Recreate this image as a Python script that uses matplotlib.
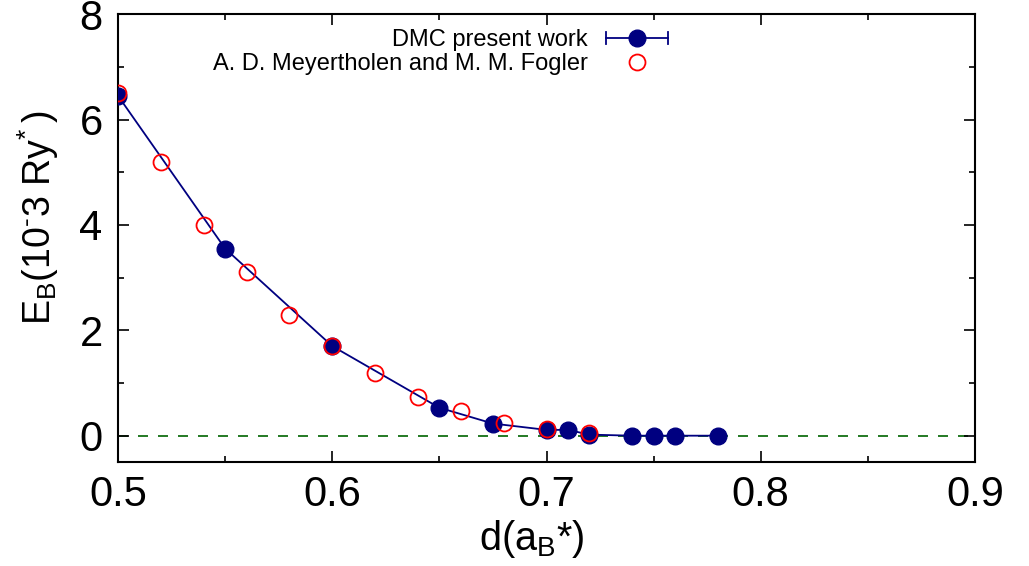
import matplotlib
matplotlib.use("Agg")
import matplotlib.pyplot as plt
from matplotlib.lines import Line2D
from matplotlib.legend_handler import HandlerBase
from matplotlib.ticker import MultipleLocator

plt.rcParams['font.family'] = ['Liberation Sans', 'DejaVu Sans']
plt.rcParams['mathtext.fontset'] = 'custom'
plt.rcParams['mathtext.rm'] = 'Liberation Sans'
plt.rcParams['mathtext.it'] = 'Liberation Sans'
plt.rcParams['mathtext.bf'] = 'Liberation Sans'

# DMC binding energies (10^-3 Ry*)
dmc_d = [0.50, 0.55, 0.60, 0.65, 0.675, 0.70, 0.71, 0.72, 0.74, 0.75, 0.76, 0.78]
dmc_e = [6.45, 3.55, 1.70, 0.53, 0.23, 0.11, 0.11, 0.02, 0.0, 0.0, 0.0, 0.0]
dmc_err = [0.02] * len(dmc_d)

# Meyertholen & Fogler
mf_d = [0.50, 0.52, 0.54, 0.56, 0.58, 0.60, 0.62, 0.64, 0.66, 0.68, 0.70, 0.72]
mf_e = [6.50, 5.19, 4.00, 3.10, 2.29, 1.70, 1.19, 0.73, 0.46, 0.25, 0.12, 0.05]

x_ticks = [0.5, 0.6, 0.7, 0.8, 0.9]
x_tick_labels = ['0.5', '0.6', '0.7', '0.8', '0.9']
y_ticks = [0, 2, 4, 6, 8]
y_tick_labels = ['0', '2', '4', '6', '8']

NAVY = '#000080'
RED = '#ff0000'
GREEN = '#006400'

fig = plt.figure(figsize=(10.29, 5.66), dpi=100)
ax = fig.add_axes([0.1147, 0.1837, 0.9475 - 0.1147, 0.975 - 0.1837])

ax.axhline(0, color=GREEN, lw=1.2, ls=(0, (6, 6)), zorder=1)

ax.errorbar(dmc_d, dmc_e, yerr=dmc_err, color=NAVY, lw=1.3, marker='o', ms=12,
            mfc=NAVY, mec=NAVY, capsize=3, elinewidth=1.2, zorder=3)
ax.plot(mf_d, mf_e, ls='none', marker='o', ms=11.5, mfc='none', mec=RED,
        mew=1.3, zorder=4)

ax.set_xlim(0.5, 0.9)
ax.set_ylim(-0.5, 8)
ax.xaxis.set_minor_locator(MultipleLocator(0.05))
ax.yaxis.set_minor_locator(MultipleLocator(1))
ax.set_xticks(x_ticks)
ax.set_xticklabels(x_tick_labels)
ax.set_yticks(y_ticks)
ax.set_yticklabels(y_tick_labels)

ax.tick_params(which='both', direction='in', top=True, right=True, width=1.2,
               labelsize=30)
ax.tick_params(which='major', length=8)
ax.tick_params(which='minor', length=4)
ax.tick_params(axis='x', pad=9)
ax.tick_params(axis='y', pad=11)
for s in ax.spines.values():
    s.set_linewidth(1.5)

ax.set_xlabel(r'd(a$_\mathregular{B}$*)', fontsize=28.5)
ax.set_ylabel(r'$\mathregular{E_B(10^{\text{-}}3\ Ry^{*}\,)}$', fontsize=27)
ax.xaxis.set_label_coords(0.483, -0.125)
ax.yaxis.set_label_coords(-0.066, 0.545)


class HorizontalErrorHandler(HandlerBase):
    def create_artists(self, legend, orig_handle, xdescent, ydescent,
                       width, height, fontsize, trans):
        y = height / 2 - ydescent
        x0, x1 = -xdescent, -xdescent + width
        cap = 4.5
        artists = [
            Line2D([x0, x1], [y, y], color=NAVY, lw=1.3),
            Line2D([x0, x0], [y - cap, y + cap], color=NAVY, lw=1.3),
            Line2D([x1, x1], [y - cap, y + cap], color=NAVY, lw=1.3),
            Line2D([(x0 + x1) / 2], [y], marker='o', ms=12, color=NAVY, ls='none'),
        ]
        for a in artists:
            a.set_transform(trans)
        return artists


dmc_handle = Line2D([], [], color=NAVY)
mf_handle = Line2D([], [], ls='none', marker='o', ms=11.5, mfc='none', mec=RED, mew=1.3)
leg = ax.legend([dmc_handle, mf_handle],
                ['DMC present work', 'A. D. Meyertholen and M. M. Fogler'],
                handler_map={dmc_handle: HorizontalErrorHandler()},
                loc='upper right', bbox_to_anchor=(0.642, 0.9666), frameon=False,
                markerfirst=False, fontsize=17, handlelength=2.65,
                handletextpad=0.75, labelspacing=0.1, borderaxespad=0.0,
                borderpad=0.0)
for t in leg.get_texts():
    t.set_ha('right')

fig.savefig('out.png', dpi=100)
